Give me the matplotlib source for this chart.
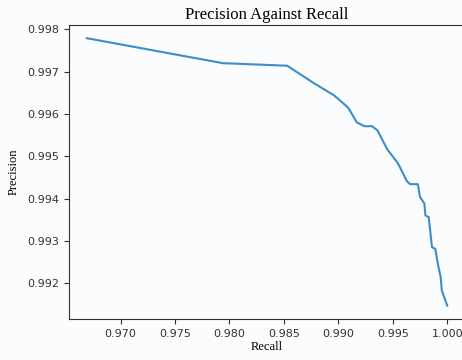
import matplotlib.pyplot as plt

recall = [0.9669, 0.9794, 0.9853, 0.9878, 0.9896, 0.9909, 0.9917, 0.9924, 0.9931,
          0.9936, 0.9945, 0.9951, 0.9955, 0.9963, 0.9966, 0.9973, 0.9975, 0.9979,
          0.9980, 0.9983, 0.9986, 0.9989, 0.9992, 0.9994, 0.9995, 1.0000]
precision = [0.99779, 0.99720, 0.99714, 0.99672, 0.99644, 0.99615, 0.99580, 0.99571,
             0.99571, 0.99561, 0.99516, 0.99496, 0.99482, 0.99441, 0.99434, 0.99434,
             0.99404, 0.99388, 0.99360, 0.99356, 0.99285, 0.99281, 0.99238, 0.99214,
             0.99183, 0.99147]
xticks = [0.970, 0.975, 0.980, 0.985, 0.990, 0.995, 1.000]
yticks = [0.992, 0.993, 0.994, 0.995, 0.996, 0.997, 0.998]

fig = plt.figure(figsize=(4.62, 3.6), dpi=100, facecolor='#fbfcfe')
# axes run slightly past the right edge, as in the cropped original
ax = fig.add_axes([0.149, 0.114, 0.858, 0.817])
ax.set_facecolor('#fbfcfe')
ax.plot(recall, precision, color='#3b8ec8', linewidth=1.5)

ax.set_xticks(xticks)
ax.set_xticklabels([f'{t:.3f}' for t in xticks])
ax.set_yticks(yticks)
ax.set_yticklabels([f'{t:.3f}' for t in yticks])
ax.tick_params(labelsize=8, colors='#333333')
for s in ax.spines.values():
    s.set_color('#333333')

ax.set_title('Precision Against Recall', family='Liberation Serif', fontsize=12, pad=4)
ax.set_xlabel('Recall', family='Liberation Serif', fontsize=9, labelpad=2)
ax.set_ylabel('Precision', family='Liberation Serif', fontsize=9, labelpad=5)

fig.savefig('out.png', dpi=100, facecolor=fig.get_facecolor())
